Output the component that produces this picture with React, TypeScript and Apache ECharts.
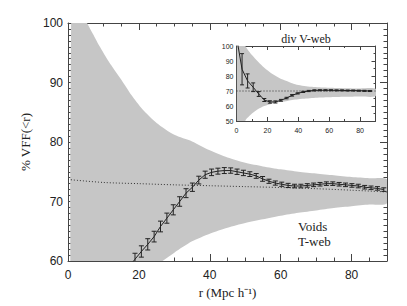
import React, { useEffect, useRef } from "react";
import * as echarts from "echarts";

// ---- main panel (Voids, T-web) ----
const mainR = [17.1, 18.9, 20.7, 22.5, 24.3, 26.1, 27.9, 29.7, 31.5, 33.3, 35.1, 36.9, 38.7, 40.5, 42.3, 44.1, 45.9, 47.7, 49.5, 51.3, 53.1, 54.9, 56.7, 58.5, 60.3, 62.1, 63.9, 65.7, 67.5, 69.3, 71.1, 72.9, 74.7, 76.5, 78.3, 80.1, 81.9, 83.7, 85.5, 87.3, 89.1];
const mainV = [58.9, 60.3, 61.6, 62.8, 64.1, 65.8, 67.2, 68.6, 70.0, 71.4, 72.4, 73.6, 74.5, 74.9, 75.1, 75.2, 75.2, 75.0, 74.8, 74.6, 74.3, 73.8, 73.4, 73.1, 72.9, 72.7, 72.6, 72.6, 72.7, 72.8, 72.9, 73.0, 73.0, 72.9, 72.8, 72.7, 72.6, 72.4, 72.3, 72.2, 72.0];
const mainErr = [1.0, 1.0, 0.95, 0.95, 0.9, 0.9, 0.85, 0.85, 0.8, 0.75, 0.7, 0.65, 0.6, 0.55, 0.5, 0.5, 0.45, 0.45, 0.45, 0.4, 0.4, 0.4, 0.35, 0.35, 0.35, 0.35, 0.3, 0.3, 0.3, 0.3, 0.3, 0.3, 0.3, 0.3, 0.3, 0.3, 0.3, 0.3, 0.3, 0.3, 0.3];
const mainBandR = [1, 3, 5, 7, 9, 11, 13, 15, 18, 21, 25, 30, 35, 40, 45, 50, 55, 60, 65, 70, 75, 80, 85, 90];
const mainBandHi = [105, 102.6, 100.4, 98.2, 96.0, 94.0, 92.2, 90.5, 87.8, 85.5, 83.2, 81.2, 80.1, 78.6, 77.4, 76.5, 75.9, 75.4, 75.0, 74.7, 74.4, 74.1, 73.9, 73.7];
const mainBandLo = [30, 34, 38, 42, 45, 48, 50, 52, 54.5, 56.5, 59.2, 61.4, 63.3, 64.6, 65.6, 66.4, 67.0, 67.6, 68.1, 68.5, 68.9, 69.2, 69.5, 69.7];
const mainRefR = [0, 10, 20, 30, 40, 50, 60, 70, 80, 90];
const mainRefV = [73.7, 73.2, 73.0, 72.8, 72.65, 72.5, 72.35, 72.15, 71.9, 71.6];

// ---- inset panel (div V-web) ----
const inR = [0, 3.6, 7.2, 10.8, 14.4, 18.0, 21.6, 25.2, 28.8, 32.4, 36.0, 39.6, 43.2, 46.8, 50.4, 54.0, 57.6, 61.2, 64.8, 68.4, 72.0, 75.6, 79.2, 82.8, 86.4];
const inV = [106, 84.5, 76.7, 72.5, 68.0, 64.0, 62.7, 62.7, 63.8, 65.3, 67.1, 68.4, 69.4, 70.0, 70.4, 70.5, 70.5, 70.5, 70.4, 70.4, 70.3, 70.3, 70.2, 70.1, 70.0];
const inErr = [0, 10.4, 4.7, 2.9, 1.6, 1.0, 0.8, 0.7, 0.6, 0.5, 0.5, 0.4, 0.4, 0.4, 0.4, 0.35, 0.35, 0.35, 0.35, 0.35, 0.35, 0.35, 0.35, 0.35, 0.35];
const inBandR = [0.5, 2, 4, 6, 8, 10, 14, 18, 23, 28, 32, 36, 40, 45, 50, 60, 70, 80, 90];
const inBandHi = [125, 112, 104, 99.5, 96.5, 94, 89.5, 85.5, 81.5, 78.5, 76.8, 75.2, 74.0, 73.2, 72.7, 72.2, 71.9, 71.7, 71.5];
const inBandLo = [20, 32, 44, 50.8, 53, 55, 58, 60, 61.5, 62.6, 63.2, 64, 64.5, 65, 65.4, 65.8, 66.1, 66.3, 66.5];
const inRefR = [0, 90];
const inRefV = [70, 70];

const AXIS = "#444";
const INK = "#222";
const GRAY = "#c6c6c6";
const SANS = "Liberation Sans, Arial, sans-serif";
const SERIF = "Liberation Serif, Times New Roman, serif";

function pairs(xs: number[], ys: number[]) {
  return xs.map((x, i) => [x, ys[i]]);
}

function errRender(cap: number) {
  return (params: any, api: any) => {
    const x = api.value(0);
    const lo = api.coord([x, api.value(1)]);
    const hi = api.coord([x, api.value(2)]);
    const style = { stroke: INK, lineWidth: 1, fill: "none" };
    return {
      type: "group",
      children: [
        { type: "line", shape: { x1: lo[0], y1: lo[1], x2: hi[0], y2: hi[1] }, style },
        { type: "line", shape: { x1: lo[0] - cap, y1: lo[1], x2: lo[0] + cap, y2: lo[1] }, style },
        { type: "line", shape: { x1: hi[0] - cap, y1: hi[1], x2: hi[0] + cap, y2: hi[1] }, style },
      ],
    };
  };
}

function bandRender(rs: number[], lo: number[], hi: number[]) {
  return (params: any, api: any) => {
    if (params.dataIndex !== 0) return null;
    const top = rs.map((r, i) => api.coord([r, hi[i]]));
    const bot = rs.map((r, i) => api.coord([r, lo[i]]));
    return {
      type: "group",
      children: [
        {
          type: "polygon",
          shape: { points: top.concat(bot.slice().reverse()), smooth: 0.25 },
          style: { fill: GRAY, stroke: "none" },
        },
      ],
    };
  };
}

function xAx(grid: number, pos: string, interval: number, len: number, extra: any = {}) {
  return {
    type: "value",
    gridIndex: grid,
    position: pos,
    min: 0,
    max: 90,
    interval,
    splitLine: { show: false },
    axisLine: { show: true, onZero: false, lineStyle: { color: AXIS, width: 1 } },
    axisTick: { show: true, inside: true, length: len, lineStyle: { color: AXIS } },
    axisLabel: { show: false },
    ...extra,
  };
}

function yAx(grid: number, pos: string, min: number, len: number, minorLen: number, split: number, extra: any = {}) {
  return {
    type: "value",
    gridIndex: grid,
    position: pos,
    min,
    max: 100,
    interval: 10,
    splitLine: { show: false },
    axisLine: { show: true, onZero: false, lineStyle: { color: AXIS } },
    axisTick: { show: true, inside: true, length: len, lineStyle: { color: AXIS } },
    minorTick: { show: true, splitNumber: split, length: minorLen, lineStyle: { color: AXIS } },
    axisLabel: { show: false },
    ...extra,
  };
}

export default function App() {
  const ref = useRef<HTMLDivElement>(null);
  useEffect(() => {
    if (!ref.current) return;
    const chart = echarts.init(ref.current, undefined, { renderer: "svg" });
    const option: any = {
      animation: false,
      grid: [
        { left: 68, top: 23, width: 319, height: 238 },
        { left: 236.5, top: 46, width: 139, height: 75 },
      ],
      xAxis: [
        xAx(0, "bottom", 20, 7, {
          axisLabel: { show: true, showMaxLabel: false, color: INK, fontFamily: SANS, fontSize: 12, margin: 8 },
          name: "r (Mpc h⁻¹)",
          nameLocation: "middle",
          nameGap: 24,
          nameTextStyle: { color: INK, fontFamily: SERIF, fontSize: 13 },
        }),
        xAx(0, "bottom", 5, 3.5, { axisLine: { show: false, onZero: false } }),
        xAx(0, "top", 20, 7),
        xAx(0, "top", 5, 3.5, { axisLine: { show: false, onZero: false } }),
        xAx(1, "bottom", 20, 4, {
          axisLabel: { show: true, showMaxLabel: false, color: INK, fontFamily: SANS, fontSize: 7, margin: 6 },
        }),
        xAx(1, "bottom", 10, 2, { axisLine: { show: false, onZero: false } }),
        xAx(1, "top", 20, 4),
        xAx(1, "top", 10, 2, { axisLine: { show: false, onZero: false } }),
      ],
      yAxis: [
        yAx(0, "left", 60, 7, 3.5, 10, {
          axisLabel: { show: true, color: INK, fontFamily: SANS, fontSize: 12, margin: 5 },
          name: "% VFF(<r)",
          nameLocation: "middle",
          nameGap: 22,
          nameTextStyle: { color: INK, fontFamily: SERIF, fontSize: 13 },
        }),
        yAx(0, "right", 60, 7, 3.5, 10),
        yAx(1, "left", 50, 4, 2, 2, {
          axisLabel: { show: true, color: INK, fontFamily: SANS, fontSize: 7, margin: 3 },
        }),
        yAx(1, "right", 50, 4, 2, 2),
      ],
      series: [
        {
          type: "custom",
          xAxisIndex: 0,
          yAxisIndex: 0,
          data: mainBandR.map((r, i) => [r, mainBandLo[i], mainBandHi[i]]),
          encode: { x: 0, y: [1, 2] },
          renderItem: bandRender(mainBandR, mainBandLo, mainBandHi),
          clip: true,
          silent: true,
          z: 1,
        },
        {
          type: "line",
          xAxisIndex: 0,
          yAxisIndex: 0,
          data: pairs(mainRefR, mainRefV),
          symbol: "none",
          smooth: 0.3,
          lineStyle: { color: "#333", width: 1, type: [1, 2] },
          z: 3,
        },
        {
          type: "line",
          xAxisIndex: 0,
          yAxisIndex: 0,
          data: pairs(mainR, mainV),
          symbol: "none",
          lineStyle: { color: INK, width: 1 },
          clip: true,
          z: 4,
        },
        {
          type: "custom",
          xAxisIndex: 0,
          yAxisIndex: 0,
          data: mainR.map((r, i) => [r, mainV[i] - mainErr[i], mainV[i] + mainErr[i]]),
          encode: { x: 0, y: [1, 2] },
          renderItem: errRender(2.5),
          clip: true,
          z: 5,
        },
        {
          type: "custom",
          xAxisIndex: 4,
          yAxisIndex: 2,
          data: inBandR.map((r, i) => [r, inBandLo[i], inBandHi[i]]),
          encode: { x: 0, y: [1, 2] },
          renderItem: bandRender(inBandR, inBandLo, inBandHi),
          clip: true,
          silent: true,
          z: 1,
        },
        {
          type: "line",
          xAxisIndex: 4,
          yAxisIndex: 2,
          data: pairs(inRefR, inRefV),
          symbol: "none",
          lineStyle: { color: "#333", width: 1, type: [1, 2] },
          z: 3,
        },
        {
          type: "line",
          xAxisIndex: 4,
          yAxisIndex: 2,
          data: pairs(inR, inV),
          symbol: "none",
          lineStyle: { color: INK, width: 1 },
          clip: true,
          z: 4,
        },
        {
          type: "custom",
          xAxisIndex: 4,
          yAxisIndex: 2,
          data: inR.map((r, i) => [r, inV[i] - inErr[i], inV[i] + inErr[i]]),
          encode: { x: 0, y: [1, 2] },
          renderItem: errRender(2),
          clip: true,
          z: 5,
        },
      ],
      graphic: [
        {
          type: "text",
          x: 306,
          y: 39,
          style: { text: "div V-web", fill: INK, font: `12px ${SERIF}`, textAlign: "center", textVerticalAlign: "middle" },
        },
        {
          type: "text",
          x: 298,
          y: 226,
          style: { text: "Voids", fill: INK, font: `13px ${SERIF}`, textAlign: "left", textVerticalAlign: "middle" },
        },
        {
          type: "text",
          x: 298,
          y: 241,
          style: { text: "T-web", fill: INK, font: `13px ${SERIF}`, textAlign: "left", textVerticalAlign: "middle" },
        },
      ],
    };
    chart.setOption(option);
    return () => chart.dispose();
  }, []);
  return <div ref={ref} style={{ width: 407, height: 306, position: "absolute", left: 0, top: 0 }} />;
}
